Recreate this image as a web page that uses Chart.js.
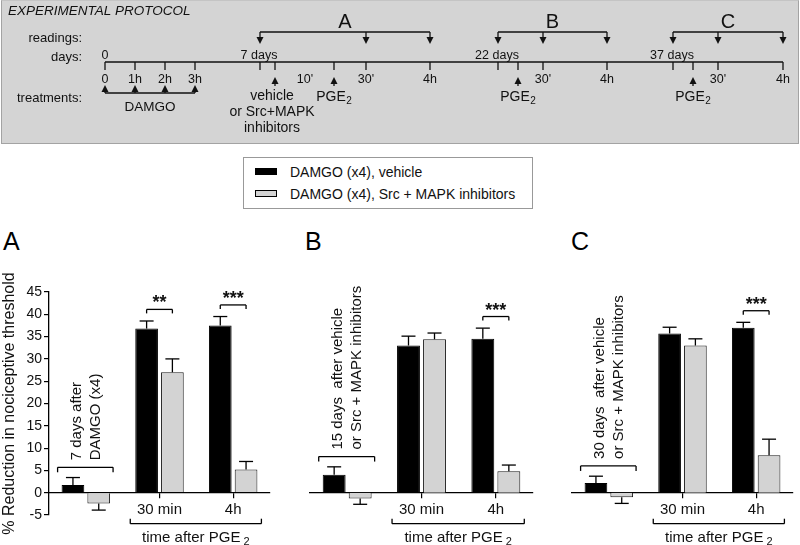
<!DOCTYPE html>
<html>
<head>
<meta charset="utf-8">
<title>DAMGO priming - reduction in nociceptive threshold</title>
<script src="https://cdn.jsdelivr.net/npm/chart.js"></script>
<style>
    body { margin: 0; background: #fff; font-family: "Liberation Sans", Arial, sans-serif; }
    #page { position: relative; width: 800px; height: 545px; overflow: hidden; }
    #protocolBox { position: absolute; left: 1px; top: 0; width: 798px; height: 144px; box-sizing: border-box;
        background: #d4d4d4; border: 1px solid #a3a3a3; border-top-color: #c4c4c4; }
    canvas { position: absolute; }
    #protocol { left: 0; top: 0; }
    #chartA { left: 0; top: 240px; }
    #chartB { left: 290px; top: 240px; }
    #chartC { left: 550px; top: 240px; }
    .legend { position: absolute; left: 243px; top: 157px; width: 290px; height: 52px; box-sizing: border-box;
        border: 1px solid #999; font-size: 14px; color: #111; }
    .legend div { position: absolute; left: 46px; white-space: nowrap; line-height: 16px; }
    .legend span { position: absolute; left: -35px; top: 4px; width: 22px; height: 7px; box-sizing: border-box; border: 1px solid #000; }
    .letter { position: absolute; top: 229px; font-size: 25px; line-height: 25px; color: #000; }
</style>
</head>
<body>
<div id="page">
    <div id="protocolBox"></div>
    <canvas id="protocol" width="800" height="145"></canvas>

    <div class="legend">
        <div style="top:6px"><span style="background:#000"></span>DAMGO (x4), vehicle</div>
        <div style="top:28px"><span style="background:#d3d3d3"></span>DAMGO (x4), Src + MAPK inhibitors</div>
    </div>

    <div class="letter" style="left:3px">A</div>
    <div class="letter" style="left:305px">B</div>
    <div class="letter" style="left:571px">C</div>

    <canvas id="chartA" width="275" height="305"></canvas>
    <canvas id="chartB" width="250" height="305"></canvas>
    <canvas id="chartC" width="250" height="305"></canvas>
</div>

<script>
const FONT = '"Liberation Sans", Arial, sans-serif';
const INK = '#111';

// bar chart data
const categories = ['', '30 min', '4h'];
const seriesNames = ['DAMGO (x4), vehicle', 'DAMGO (x4), Src + MAPK inhibitors'];

const vehicleA = [1.7, 36.8, 37.5];
const vehicleErrA = [1.7, 1.7, 2.0];
const inhibA = [-2.4, 27.0, 5.2];
const inhibErrA = [1.5, 3.0, 1.8];

const vehicleB = [4.0, 33.0, 34.5];
const vehicleErrB = [1.8, 2.1, 2.4];
const inhibB = [-1.3, 34.4, 4.8];
const inhibErrB = [1.3, 1.4, 1.4];

const vehicleC = [2.2, 35.7, 37.0];
const vehicleErrC = [1.5, 1.4, 1.2];
const inhibC = [-1.0, 33.0, 8.4];
const inhibErrC = [1.4, 1.5, 3.6];

const starsA = ['', '**', '***'];
const starsB = ['', '', '***'];
const starsC = ['', '', '***'];

const noteA = ['7 days after', 'DAMGO (x4)'];
const noteB = ['15 days  after vehicle', 'or Src + MAPK inhibitors'];
const noteC = ['30 days  after vehicle', 'or Src + MAPK inhibitors'];

const yMin = -5;
const yMax = 45;
const yStep = 5;
const yTitle = '% Reduction in nociceptive threshold';

// protocol timeline (positions in timeline units)
const timelineStart = 105;
const timelineEnd = 783;
const timeTicks = [105, 135, 165, 195, 260, 275, 334, 366, 430, 498, 518, 543, 607, 673, 693, 718, 783];
const dayLabels = [[105, '0'], [259, '7 days'], [497, '22 days'], [672, '37 days']];
const tickLabels = [[105, '0'], [135, '1h'], [165, '2h'], [195, '3h'], [305, "10'"], [366, "30'"], [430, '4h'],
    [543, "30'"], [607, '4h'], [718, "30'"], [783, '4h']];
const damgoDoses = [105, 135, 165, 195];
const vehicleMark = 275;
const vehicleText = ['vehicle', 'or Src+MAPK', 'inhibitors'];
const pgeMarks = [334, 518, 693];
const readingGroups = [
    { name: 'A', marks: [260, 366, 430] },
    { name: 'B', marks: [498, 543, 607] },
    { name: 'C', marks: [673, 718, 783] }
];
const rowLabels = [['readings:', 38], ['days:', 57], ['treatments:', 98]];

Chart.defaults.font.family = FONT;
Chart.defaults.color = INK;

function seg(ctx, x1, y1, x2, y2) {
    ctx.beginPath();
    ctx.moveTo(x1, y1);
    ctx.lineTo(x2, y2);
    ctx.stroke();
}

function label(ctx, text, x, y, font, align) {
    ctx.font = font;
    ctx.textAlign = align || 'center';
    ctx.textBaseline = 'middle';
    ctx.fillText(text, x, y);
}

// text with a subscript, centred on x
function subLabel(ctx, main, sub, x, y, size, gap) {
    const subSize = Math.round(size * 0.72);
    ctx.font = `${size}px ${FONT}`;
    const w1 = ctx.measureText(main).width;
    ctx.font = `${subSize}px ${FONT}`;
    const w2 = ctx.measureText(sub).width;
    const start = x - (w1 + w2 + gap) / 2;
    label(ctx, main, start, y, `${size}px ${FONT}`, 'left');
    label(ctx, sub, start + w1 + gap, y + size * 0.27, `${subSize}px ${FONT}`, 'left');
}

// vertical arrow from y0 to the tip at y1
function arrow(ctx, x, y0, y1) {
    const dir = y1 > y0 ? 1 : -1;
    const head = 7;
    seg(ctx, x, y0, x, y1 - dir * head);
    ctx.beginPath();
    ctx.moveTo(x, y1);
    ctx.lineTo(x - 3.5, y1 - dir * head);
    ctx.lineTo(x + 3.5, y1 - dir * head);
    ctx.closePath();
    ctx.fill();
}

const protocolDraw = {
    id: 'protocolDraw',
    afterDraw(chart) {
        const ctx = chart.ctx;
        const X = v => chart.scales.x.getPixelForValue(v);
        const Y = v => chart.scales.y.getPixelForValue(v);
        ctx.save();
        ctx.strokeStyle = INK;
        ctx.fillStyle = INK;
        ctx.lineWidth = 1.3;

        label(ctx, 'EXPERIMENTAL PROTOCOL', X(8), Y(11), `italic 13.5px ${FONT}`, 'left');
        rowLabels.forEach(([t, y]) => label(ctx, t, X(82), Y(y), `13px ${FONT}`, 'right'));

        readingGroups.forEach(g => {
            const a = g.marks[0];
            const b = g.marks[g.marks.length - 1];
            label(ctx, g.name, X((a + b) / 2), Y(22), `20px ${FONT}`);
            seg(ctx, X(a), Y(32), X(b), Y(32));
            g.marks.forEach(m => arrow(ctx, X(m), Y(32), Y(44)));
        });

        seg(ctx, X(timelineStart), Y(62), X(timelineEnd), Y(62));
        timeTicks.forEach(t => seg(ctx, X(t), Y(62), X(t), Y(70)));
        dayLabels.forEach(([x, t]) => label(ctx, t, X(x), Y(56), `12.5px ${FONT}`));
        tickLabels.forEach(([x, t]) => label(ctx, t, X(x), Y(80), `12.5px ${FONT}`));

        damgoDoses.forEach(t => arrow(ctx, X(t), Y(93), Y(85)));
        seg(ctx, X(damgoDoses[0]), Y(93), X(damgoDoses[damgoDoses.length - 1]), Y(93));
        label(ctx, 'DAMGO', X((damgoDoses[0] + damgoDoses[damgoDoses.length - 1]) / 2), Y(107), `13.5px ${FONT}`);

        arrow(ctx, X(vehicleMark), Y(86), Y(77));
        vehicleText.forEach((t, i) => label(ctx, t, X(vehicleMark - 3), Y(96 + i * 16), `14px ${FONT}`));

        pgeMarks.forEach(p => {
            arrow(ctx, X(p), Y(86), Y(77));
            subLabel(ctx, 'PGE', '2', X(p), Y(97), 14, 0.5);
        });
        ctx.restore();
    }
};

new Chart(document.getElementById('protocol'), {
    type: 'scatter',
    data: { datasets: [] },
    options: {
        responsive: false,
        animation: false,
        events: [],
        layout: { padding: 0 },
        scales: {
            x: { type: 'linear', min: 0, max: 800, display: false },
            y: { type: 'linear', min: 0, max: 145, reverse: true, display: false }
        },
        plugins: { legend: { display: false }, tooltip: { enabled: false } }
    },
    plugins: [protocolDraw]
});

// error bars, significance brackets and the text notes on each panel
const panelMarks = {
    id: 'panelMarks',
    afterDraw(chart, args, opts) {
        const ctx = chart.ctx;
        const y = chart.scales.y;
        const sets = chart.data.datasets;
        const bars = sets.map((ds, i) => chart.getDatasetMeta(i).data);
        ctx.save();
        ctx.strokeStyle = '#000';
        ctx.fillStyle = INK;
        ctx.lineWidth = 1.3;

        sets.forEach((ds, di) => {
            bars[di].forEach((bar, i) => {
                const v = ds.data[i];
                const end = y.getPixelForValue(v + (v < 0 ? -ds.errors[i] : ds.errors[i]));
                seg(ctx, bar.x, bar.y, bar.x, end);
                seg(ctx, bar.x - 7, end, bar.x + 7, end);
            });
        });

        const groupTop = g => Math.max(...sets.map(ds => ds.data[g] > 0 ? ds.data[g] + ds.errors[g] : 0));

        // note over the baseline group
        const first = bars[0][0];
        const last = bars[1][0];
        const ny = y.getPixelForValue(groupTop(0) + 2.3);
        const nx1 = first.x - first.width / 2 - 4;
        const nx2 = last.x + last.width / 2 + 3;
        seg(ctx, nx1, ny, nx2, ny);
        seg(ctx, nx1, ny, nx1, ny + 5);
        seg(ctx, nx2, ny, nx2, ny + 5);
        ctx.save();
        ctx.translate((nx1 + nx2) / 2 + 1, ny - 7);
        ctx.rotate(-Math.PI / 2);
        opts.note.forEach((t, i) => label(ctx, t, 0, (i - (opts.note.length - 1) / 2) * 19, `15px ${FONT}`, 'left'));
        ctx.restore();

        // significance brackets
        opts.stars.forEach((s, g) => {
            if (!s) return;
            const sy = y.getPixelForValue(groupTop(g) + 2.6);
            const a = bars[0][g].x;
            const b = bars[1][g].x;
            seg(ctx, a, sy, b, sy);
            seg(ctx, a, sy, a, sy + 4);
            seg(ctx, b, sy, b, sy + 4);
            ctx.font = `bold 18px ${FONT}`;
            ctx.textAlign = 'center';
            ctx.textBaseline = 'alphabetic';
            ctx.fillText(s, (a + b) / 2, sy - 1);
        });

        // "time after PGE2" bracket under the post-PGE2 groups
        const zero = y.getPixelForValue(0);
        const by = zero + 31;
        const b1 = bars[0][1];
        const b2 = bars[1][2];
        const bx1 = b1.x - b1.width / 2 - 5;
        const bx2 = b2.x + b2.width / 2 + 4;
        seg(ctx, bx1, by, bx2, by);
        seg(ctx, bx1, by, bx1, by - 5);
        seg(ctx, bx2, by, bx2, by - 5);
        subLabel(ctx, 'time after PGE', '2', (bx1 + bx2) / 2, by + 14, 15, 3);
        ctx.restore();
    }
};

function makePanel(id, vehicle, vehicleErr, inhib, inhibErr, stars, note, showAxis, padLeft, padRight) {
    return new Chart(document.getElementById(id), {
        type: 'bar',
        data: {
            labels: categories,
            datasets: [
                { label: seriesNames[0], data: vehicle, errors: vehicleErr,
                  backgroundColor: '#000', borderColor: '#000', borderWidth: 1 },
                { label: seriesNames[1], data: inhib, errors: inhibErr,
                  backgroundColor: '#d3d3d3', borderColor: '#1a1a1a', borderWidth: 1 }
            ]
        },
        options: {
            responsive: false,
            animation: false,
            events: [],
            layout: { padding: { top: 52, left: padLeft, right: padRight, bottom: 30 } },
            datasets: { bar: { categoryPercentage: 0.7, barPercentage: 0.88 } },
            scales: {
                x: {
                    position: { y: 0 },
                    offset: true,
                    grid: {
                        offset: false,
                        drawOnChartArea: false,
                        tickLength: 5,
                        lineWidth: 1.2,
                        color: c => c.index === 0 ? 'rgba(0,0,0,0)' : '#000'
                    },
                    border: { color: '#000', width: 1.3 },
                    ticks: { font: { size: 15 }, color: INK, padding: 3, maxRotation: 0, autoSkip: false },
                    afterFit: s => { s.height = 32; }
                },
                y: {
                    display: showAxis,
                    min: yMin,
                    max: yMax,
                    grid: { drawOnChartArea: false, tickLength: 5, color: '#000', lineWidth: 1.2 },
                    border: { color: '#000', width: 1.3 },
                    ticks: { stepSize: yStep, font: { size: 14 }, color: INK, padding: 2 },
                    title: { display: true, text: yTitle, font: { size: 16 }, color: INK, padding: { top: 0, bottom: 0 } },
                    afterFit: s => { s.width = showAxis ? 49 : 0; }
                }
            },
            plugins: {
                legend: { display: false },
                tooltip: { enabled: false },
                panelMarks: { stars: stars, note: note }
            }
        },
        plugins: [panelMarks]
    });
}

makePanel('chartA', vehicleA, vehicleErrA, inhibA, inhibErrA, starsA, noteA, true, 0, 5);
makePanel('chartB', vehicleB, vehicleErrB, inhibB, inhibErrB, starsB, noteB, false, 20, 7);
makePanel('chartC', vehicleC, vehicleErrC, inhibC, inhibErrC, starsC, noteC, false, 22, 7);
</script>
</body>
</html>
